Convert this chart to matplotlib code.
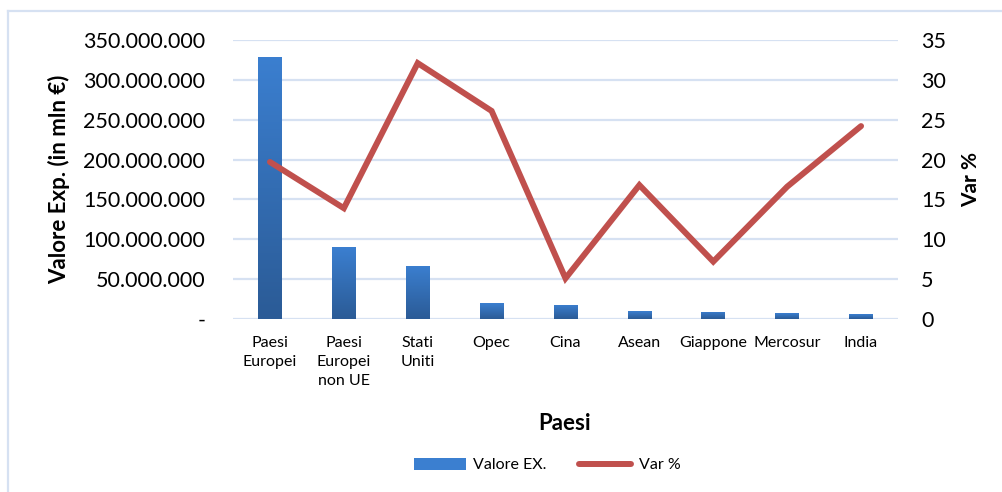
import matplotlib
matplotlib.use("Agg")
import matplotlib.pyplot as plt
import numpy as np
from matplotlib.colors import LinearSegmentedColormap
from matplotlib.lines import Line2D
from matplotlib.patches import Patch

categories = ["Paesi\nEuropei", "Paesi\nEuropei\nnon UE", "Stati\nUniti", "Opec", "Cina",
              "Asean", "Giappone", "Mercosur", "India"]
valore_ex = [329000000, 90300000, 66500000, 20000000, 17600000, 10000000, 8800000, 7500000, 6000000]
var_pct = [19.7, 13.9, 32.1, 26.1, 5.1, 16.8, 7.2, 16.6, 24.2]
left_ticks = [0, 50000000, 100000000, 150000000, 200000000, 250000000, 300000000, 350000000]
left_ticklabels = ["-", "50.000.000", "100.000.000", "150.000.000", "200.000.000",
                   "250.000.000", "300.000.000", "350.000.000"]
right_ticks = [0, 5, 10, 15, 20, 25, 30, 35]

plt.rcParams['font.family'] = ['Lato', 'DejaVu Sans']

W, H = 1003, 492
fig = plt.figure(figsize=(W/100, H/100), dpi=100)
ax = fig.add_axes([233/W, 1-319/H, (898-233)/W, (319-40)/H])
ax2 = ax.twinx()

x = np.arange(len(categories))

# gridlines
for t in left_ticks:
    ax.axhline(t, color="#d6e1f2", lw=1.6, zorder=0)

bar_color_top = "#3b7fd0"
bar_color_bot = "#2b5b96"
cmap = LinearSegmentedColormap.from_list("g", [bar_color_bot, bar_color_top])
bars = ax.bar(x, valore_ex, width=0.32, color=bar_color_top, zorder=2)
grad = np.linspace(0, 1, 256).reshape(-1, 1)
for b in bars:
    x0, y0 = b.get_x(), b.get_y()
    w, h = b.get_width(), b.get_height()
    im = ax.imshow(grad, cmap=cmap, aspect="auto", origin="lower",
                   extent=[x0, x0+w, y0, y0+h], zorder=3)
    im.set_clip_path(b)
ax.set_xlim(-0.5, len(categories)-0.5)
ax.set_ylim(0, 350000000)
ax2.set_ylim(0, 35)

ax2.plot(x, var_pct, color="#c0504d", lw=4.3, solid_capstyle="round",
         solid_joinstyle="miter", zorder=4)

for a in (ax, ax2):
    for s in a.spines.values():
        s.set_visible(False)

ax.set_yticks(left_ticks)
ax.set_yticklabels(left_ticklabels, fontsize=15.5)
ax.tick_params(axis="y", length=0, pad=20)
ax2.set_yticks(right_ticks)
ax2.set_yticklabels([str(t) for t in right_ticks], fontsize=15.5)
ax2.tick_params(axis="y", length=0, pad=16.5)

ax.set_xticks(x)
ax.set_xticklabels(categories, fontsize=11.5, va="top", linespacing=1.45)
ax.tick_params(axis="x", length=0, pad=12.5)

ax.set_ylabel("Valore Exp. (in mln €)", fontsize=16, fontweight="bold")
ax.yaxis.set_label_coords((70-233)/665, 0.5)
ax2.set_ylabel("Var %", fontsize=15, fontweight="bold")
ax2.yaxis.set_label_coords((961-233)/665, 0.5)
fig.text(565/W, 1-423/H, "Paesi", fontsize=16, fontweight="bold", ha="center", va="center")

handles = [Patch(facecolor=bar_color_top, edgecolor="none"),
           Line2D([0], [0], color="#c0504d", lw=4.3, solid_capstyle="round")]
fig.legend(handles, ["Valore EX.", "Var %"], loc="center", bbox_to_anchor=(547/W, 1-465/H),
           ncol=2, frameon=False, fontsize=11.5, handlelength=3.3, handleheight=0.8,
           handletextpad=0.45, columnspacing=2.0)

# chart frame (cropped)
fig.add_artist(Line2D([8.5/W, 8.5/W], [0, 1-11/H], transform=fig.transFigure,
                      color="#d6e1f2", lw=1.6))
fig.add_artist(Line2D([8.5/W, 1], [1-11/H, 1-11/H], transform=fig.transFigure,
                      color="#d6e1f2", lw=1.6))

fig.savefig("out.png", dpi=100)
